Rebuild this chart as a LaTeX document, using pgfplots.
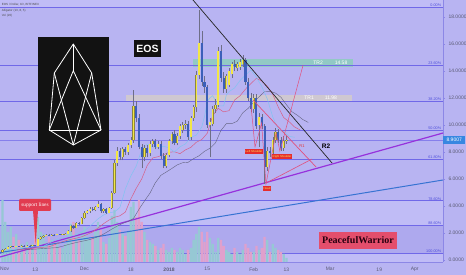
\documentclass[border=0pt]{standalone}
\usepackage{pgfplots}
\pgfplotsset{compat=1.18}
\usepackage{pgfplotstable}
\usepackage{fontspec}
\setmainfont{Liberation Sans}
\newfontfamily\serifface{Liberation Serif}

\definecolor{bg}{RGB}{184,180,242}
\definecolor{bandlight}{RGB}{192,188,246}
\definecolor{banddark}{RGB}{174,169,238}
\definecolor{fibline}{RGB}{112,104,232}
\definecolor{fibtext}{RGB}{80,80,220}
\definecolor{upbody}{RGB}{242,230,70}
\definecolor{upedge}{RGB}{140,135,60}
\definecolor{downbody}{RGB}{60,95,185}
\definecolor{wick}{RGB}{110,110,135}
\definecolor{volup}{RGB}{150,200,212}
\definecolor{voldown}{RGB}{224,160,204}
\definecolor{lips}{RGB}{130,195,240}
\definecolor{teeth}{RGB}{215,95,135}
\definecolor{jaw}{RGB}{100,100,130}
\definecolor{suppurple}{RGB}{150,50,220}
\definecolor{supblue}{RGB}{55,115,210}
\definecolor{hsline}{RGB}{225,80,125}
\definecolor{trtwo}{RGB}{140,205,190}
\definecolor{trone}{RGB}{212,204,204}
\definecolor{tagblue}{RGB}{55,135,225}
\definecolor{labelred}{RGB}{230,45,45}
\definecolor{boxred}{RGB}{228,78,108}
\definecolor{calloutred}{RGB}{225,60,80}
\definecolor{axisline}{RGB}{140,135,230}
\definecolor{ticktext}{RGB}{90,90,115}

% EOS/USD daily candles (day 0 = 1 Nov 2017), volume in chart units
\pgfplotstableread{
d o h l c v
0 0.60 0.80 0.55 0.75 62
1 0.75 0.90 0.72 0.85 40
2 0.85 1.00 0.80 0.95 30
3 0.95 1.05 0.92 1.00 35
5 0.98 1.06 0.95 1.02 28
7 1.00 1.08 0.97 1.05 18
9 1.02 1.09 1.00 1.06 20
11 1.03 1.11 1.01 1.08 18
13 1.05 1.65 1.03 1.55 45
14 1.55 1.78 1.50 1.70 30
15 1.70 1.86 1.65 1.80 28
16 1.80 1.90 1.75 1.85 20
18 1.82 1.93 1.78 1.88 22
20 1.85 1.95 1.82 1.90 18
22 1.87 1.96 1.84 1.92 14
23 1.92 2.00 1.88 1.95 18
24 1.95 2.20 1.92 2.15 30
25 2.15 2.60 2.10 2.50 38
27 2.40 2.85 2.35 2.75 28
29 2.70 3.20 2.65 3.10 30
30 3.10 3.60 3.00 3.50 35
31 3.50 3.70 3.40 3.60 25
32 3.60 3.90 3.50 3.80 22
34 3.70 4.00 3.60 3.95 30
35 3.95 4.35 3.85 4.15 40
37 3.60 3.85 3.50 3.75 20
39 3.50 3.95 3.45 3.85 24
40 3.85 5.10 3.80 5.00 46
41 5.00 7.40 4.90 7.20 52
42 7.20 8.40 7.00 8.10 40
44 7.60 8.40 7.40 8.20 28
46 8.00 8.70 7.80 8.50 30
47 8.50 9.10 8.30 8.90 55
48 8.90 12.60 8.70 11.40 60
52 7.60 8.50 7.30 8.30 30
54 7.90 8.80 7.70 8.60 20
55 8.60 9.00 8.40 8.80 18
57 8.40 8.80 8.20 8.60 12
60 7.00 7.90 6.80 7.80 12
61 7.80 9.00 7.60 8.80 10
62 8.80 9.50 8.60 9.30 14
64 8.70 9.40 8.50 9.20 10
65 9.20 10.10 9.00 9.90 14
66 9.60 10.20 9.40 10.00 12
67 10.00 10.40 9.70 10.10 8
69 9.10 10.70 8.90 10.50 14
70 10.50 11.50 10.30 11.30 22
71 11.30 14.00 11.00 13.70 28
72 13.70 18.50 13.40 16.10 35
76 10.00 10.50 7.60 10.20 24
77 10.10 11.40 9.90 11.20 18
78 11.20 11.90 10.90 11.50 10
79 11.50 15.80 11.30 15.50 24
82 12.70 13.80 12.40 13.60 12
83 13.00 14.20 12.80 14.00 10
84 13.80 14.70 13.50 14.50 8
86 14.20 14.70 14.00 14.50 10
87 14.30 14.90 14.10 14.70 8
88 14.50 15.20 14.30 14.80 12
92 11.20 12.30 10.90 12.00 10
94 10.00 10.90 8.37 10.60 12
97 6.90 8.40 6.60 8.10 22
99 7.90 9.10 7.70 8.90 18
100 8.90 9.80 8.70 9.50 14
103 8.30 9.20 8.10 8.80 8
104 8.80 9.20 8.60 8.9007 4
}\upcandles

\pgfplotstableread{
d o h l c v
4 1.00 1.04 0.95 0.98 25
6 1.02 1.05 0.97 1.00 22
8 1.05 1.08 0.99 1.02 15
10 1.06 1.08 1.00 1.03 14
12 1.08 1.10 1.02 1.05 38
17 1.85 1.90 1.78 1.82 25
19 1.88 1.92 1.82 1.85 20
21 1.90 1.94 1.84 1.87 14
26 2.50 2.60 2.30 2.40 40
28 2.75 2.85 2.60 2.70 22
33 3.80 3.90 3.60 3.70 26
36 4.15 4.25 3.50 3.60 32
38 3.75 3.85 3.40 3.50 18
43 8.10 8.30 7.40 7.60 32
45 8.20 8.40 7.80 8.00 26
49 11.40 11.80 10.20 10.50 45
50 10.50 10.80 8.20 8.40 62
51 8.40 8.60 6.80 7.60 40
53 8.30 8.50 7.60 7.90 22
56 8.80 9.00 8.20 8.40 16
58 8.60 8.80 7.50 7.70 14
59 7.70 7.90 6.80 7.00 18
63 9.30 9.60 8.50 8.70 12
68 10.10 10.30 8.90 9.10 12
73 16.10 17.00 12.90 13.20 30
74 13.20 13.60 12.40 12.80 20
75 12.80 13.00 9.80 10.00 30
80 15.50 15.90 13.20 13.50 22
81 13.50 13.90 12.40 12.70 16
85 14.50 14.80 14.00 14.30 14
89 14.80 15.00 13.00 13.20 18
90 13.20 13.50 11.80 12.00 14
91 12.00 12.40 11.00 11.20 10
93 12.00 12.30 9.70 9.90 16
95 10.60 10.80 9.70 9.90 14
96 9.90 10.10 5.63 6.90 25
98 8.10 8.40 7.60 7.90 10
101 9.50 9.70 8.70 8.90 12
102 8.90 9.10 8.07 8.30 10
}\downcandles

\pgfplotsset{
  frame/.style={scale only axis, width=443pt, height=262pt,
    xmin=-0.916, xmax=161.35},
  pricey/.style={ymin=-0.148, ymax=19.26},
}

\begin{document}
\begin{tikzpicture}[x=1pt,y=1pt]
\useasboundingbox (0,-13) rectangle (466,262);
\fill[bg] (0,-13) rectangle (466,262);

% ---- Fibonacci retracement backdrop
\begin{axis}[frame, pricey, hide axis, clip=true]
  \fill[bandlight] (axis cs:-1,18.7) rectangle (axis cs:162,19.3);
  \fill[bandlight] (axis cs:-1,4.395) rectangle (axis cs:162,2.575);
  \fill[banddark]  (axis cs:-1,2.575) rectangle (axis cs:162,0.5);
  \fill[bandlight] (axis cs:-1,0.5) rectangle (axis cs:162,-0.2);
  % target boxes
  \fill[trone, opacity=0.85] (axis cs:45.24,11.72) rectangle (axis cs:128.0,12.24);
  \fill[trtwo, opacity=0.85] (axis cs:69.78,14.28) rectangle (axis cs:128.4,14.88);
  \foreach \lv in {18.7,14.405,11.748,9.6,7.452,4.395,2.575,0.5} {
    \edef\tmp{\noexpand\addplot[fibline, line width=0.75pt, forget plot]
      coordinates {(-0.916,\lv) (161.35,\lv)};}
    \tmp
  }
  \begin{scope}[font=\fontsize{3.8}{4}\selectfont, text=fibtext, inner sep=0.4pt]
    \node[anchor=south east] at (axis cs:160.9,18.7) {0.00\%};
    \node[anchor=south east] at (axis cs:160.9,14.405) {23.60\%};
    \node[anchor=south east] at (axis cs:160.9,11.748) {38.20\%};
    \node[anchor=south east] at (axis cs:160.9,9.6) {50.00\%};
    \node[anchor=south east] at (axis cs:160.9,7.452) {61.80\%};
    \node[anchor=south east] at (axis cs:160.9,4.395) {78.60\%};
    \node[anchor=south east] at (axis cs:160.9,2.575) {88.60\%};
    \node[anchor=south east] at (axis cs:160.9,0.5) {100.00\%};
  \end{scope}
\end{axis}

% ---- volume
\begin{axis}[frame, hide axis, ymin=0, ymax=262]
  \addplot[ybar, bar width=2.3pt, bar shift=0pt, fill=volup, draw=none]
    table[x=d, y=v] \upcandles;
  \addplot[ybar, bar width=2.3pt, bar shift=0pt, fill=voldown, draw=none]
    table[x=d, y=v] \downcandles;
\end{axis}

% ---- price panel
\begin{axis}[frame, pricey,
  axis x line*=bottom, axis y line*=right,
  axis line style={draw=axisline, line width=0.6pt},
  xtick={0.8,12,30,47,61,75,92,104,120,138,151},
  xticklabels={Nov,13,Dec,18,\textbf{2018},15,Feb,13,Mar,19,Apr},
  ytick={0,2,...,18},
  tick label style={font=\fontsize{5}{5}\selectfont, text=ticktext},
  yticklabel style={/pgf/number format/.cd, fixed, fixed zerofill,
    precision=4, assume math mode=true},
  xtick style={draw=none},
  ytick style={draw=axisline, line width=0.5pt},
  tick align=outside, major tick length=2pt,
  clip=true]

  % last price line
  \addplot[fibline!70!bg, line width=0.4pt] coordinates {(-0.916,8.9007) (161.35,8.9007)};

  % support lines
  \addplot[supblue, line width=1.0pt] coordinates {(-0.916,0.548) (161.35,5.926)};
  \addplot[suppurple, line width=1.2pt] coordinates {(-0.916,0.222) (161.35,9.407)};

  % Alligator: jaw (13), teeth (8), lips (5)
  \addplot[jaw, line width=0.4pt] coordinates {
    (8,0.75) (10,0.773) (12,0.805) (14,0.836) (16,0.865) (18,0.892) (20,0.917)
    (22,1.022) (24,1.141) (26,1.246) (28,1.339) (30,1.422) (32,1.516) (34,1.654)
    (36,1.812) (38,2.033) (40,2.281) (42,2.51) (44,2.71) (46,2.845) (48,3.082)
    (50,3.76) (52,4.374) (54,4.949) (56,5.726) (58,6.27) (60,6.52) (62,6.778)
    (64,7.047) (66,7.207) (68,7.238) (70,7.507) (72,7.722) (74,8.051) (76,8.278)
    (78,8.668) (80,9.597) (82,10.099) (84,10.099) (86,10.285) (88,10.902)
    (90,11.237) (92,11.685) (94,12.087) (96,12.481) (98,12.495) (100,12.365)
    (102,12.054) (104,11.504) (106,10.985) (108,10.723) (110,10.407) (112,10.191)};
  \addplot[teeth, line width=0.5pt] coordinates {
    (5,0.75) (7,0.786) (9,0.834) (11,0.875) (13,0.912) (15,0.943) (17,0.971)
    (19,1.125) (21,1.289) (23,1.421) (25,1.528) (27,1.615) (29,1.719) (31,1.89)
    (33,2.086) (35,2.374) (37,2.686) (39,2.955) (41,3.166) (43,3.272) (45,3.551)
    (47,4.519) (49,5.316) (51,6.008) (53,6.999) (55,7.557) (57,7.654) (59,7.799)
    (61,7.984) (63,8.016) (65,7.878) (67,8.156) (69,8.346) (71,8.723) (73,8.921)
    (75,9.391) (77,10.701) (79,11.236) (81,10.972) (83,11.063) (85,11.853)
    (87,12.164) (89,12.657) (91,13.067) (93,13.462) (95,13.25) (97,12.87)
    (99,12.262) (101,11.334) (103,10.551) (105,10.239) (107,9.851) (109,9.639)};
  \addplot[lips, line width=0.5pt] coordinates {
    (3,0.75) (5,0.806) (7,0.872) (9,0.921) (11,0.962) (13,0.991) (15,1.017)
    (17,1.239) (19,1.451) (21,1.596) (23,1.698) (25,1.77) (27,1.875) (29,2.08)
    (31,2.311) (33,2.675) (35,3.048) (37,3.332) (39,3.517) (41,3.551) (43,3.889)
    (44,4.551) (45,5.261) (47,6.223) (49,6.962) (51,8.16) (53,8.582) (55,8.369)
    (57,8.34) (59,8.426) (61,8.309) (63,7.998) (65,8.386) (67,8.599) (69,9.087)
    (71,9.252) (73,9.862) (74,10.63) (75,11.724) (76,12.019) (77,12.175)
    (79,11.432) (81,11.409) (82,12.227) (83,12.482) (85,12.741) (87,13.294)
    (89,13.696) (91,14.078) (93,13.522) (95,12.846) (97,11.926) (99,10.597)
    (101,9.658) (103,9.505) (105,9.167) (107,9.087)};

  % wicks
  \addplot[draw=none, mark=none, forget plot,
    error bars/.cd, y dir=plus, y explicit, error mark=none,
    error bar style={draw=wick, line width=0.45pt}]
    table[x=d, y=l, y error plus expr=\thisrow{h}-\thisrow{l}] \upcandles;
  \addplot[draw=none, mark=none, forget plot,
    error bars/.cd, y dir=plus, y explicit, error mark=none,
    error bar style={draw=wick, line width=0.45pt}]
    table[x=d, y=l, y error plus expr=\thisrow{h}-\thisrow{l}] \downcandles;
  % bodies
  \addplot[draw=none, mark=none, forget plot,
    error bars/.cd, y dir=plus, y explicit, error mark=none,
    error bar style={draw=upedge, line width=2.2pt}]
    table[x=d, y=o, y error plus expr=\thisrow{c}-\thisrow{o}] \upcandles;
  \addplot[draw=none, mark=none, forget plot,
    error bars/.cd, y dir=plus, y explicit, error mark=none,
    error bar style={draw=upbody, line width=1.4pt}]
    table[x=d, y=o, y error plus expr=\thisrow{c}-\thisrow{o}] \upcandles;
  \addplot[draw=none, mark=none, forget plot,
    error bars/.cd, y dir=plus, y explicit, error mark=none,
    error bar style={draw=downbody, line width=2.1pt}]
    table[x=d, y=c, y error plus expr=\thisrow{o}-\thisrow{c}] \downcandles;

  % descending resistance
  \addplot[black!85, line width=0.7pt] coordinates {(68,19.68) (120.7,7.185)};
  % triangle and head-and-shoulders
  \addplot[hsline, line width=0.7pt] coordinates {(91.76,11.85) (114.84,6.89)};
  \addplot[hsline, line width=0.6pt] coordinates {(96.52,5.70) (113.37,7.48)};
  \addplot[hsline, line width=0.5pt] coordinates {
    (91.0,11.48) (92.49,8.37) (94.9,10.13) (96.5,5.63) (100.2,9.41)
    (101.6,8.07) (110.1,14.44)};

  % target labels
  \begin{scope}[font=\fontsize{5}{5}\selectfont, text=white]
    \node at (axis cs:115.6,14.58) {TR2};
    \node at (axis cs:124.0,14.58) {14.58};
    \node at (axis cs:112.3,11.98) {TR1};
    \node at (axis cs:120.3,11.98) {11.98};
  \end{scope}
\end{axis}

% ---- header text
\begin{scope}[font=\fontsize{3}{3.5}\selectfont, text=black!70, anchor=west, inner sep=0pt]
  \node[anchor=west] at (1.7,257) {EOS / Dollar, 1D, BITFINEX};
  \node[anchor=west] at (1.7,251.3) {Alligator (13, 8, 5)};
  \node[anchor=west] at (1.7,246) {Vol (20)};
\end{scope}

% ---- EOS logo
\fill[black!93] (38,225) rectangle (109,109);
\begin{scope}[white, line width=0.8pt, line join=round]
  \draw (73.3,218) -- (54.3,189) -- (49.3,132) -- (73.3,117) -- (101,132) -- (91.7,189) -- cycle;
  \draw (73.3,218) -- (73.3,191.3);
  \draw (49.3,132) -- (73.3,191.3) -- (101,132);
  \draw (54.3,189) -- (73.3,117) -- (91.7,189);
  \draw (49.3,132) -- (101,132);
\end{scope}
\node[fill=black!93, text=white, font=\bfseries\fontsize{10.5}{11}\selectfont,
  minimum width=27pt, minimum height=17pt, inner sep=0pt] at (147.5,213.5) {EOS};

% ---- support lines callout
\fill[calloutred] (33,51.5) -- (38,51.5) -- (35.7,18) -- cycle;
\node[fill=calloutred, rounded corners=1.2pt, text=white,
  font=\serifface\fontsize{5.3}{6}\selectfont,
  minimum width=32pt, minimum height=12pt, inner sep=0pt] at (35,57) {support lines};

% ---- pattern labels
\begin{scope}[font=\fontsize{2.8}{3}\selectfont, text={rgb,255:red,255;green,232;blue,90},
  fill=labelred, inner sep=0.5pt]
  \node[fill=labelred, minimum width=18pt, minimum height=5pt] at (254,110.5) {Left Shoulder};
  \node[fill=labelred, minimum width=20pt, minimum height=5pt] at (282,105) {Right Shoulder};
  \node[fill=labelred, minimum width=8pt, minimum height=5pt] at (267,73.5) {Head};
\end{scope}
\node[text=labelred, font=\fontsize{4}{4}\selectfont] at (302,116) {R1};
\node[text=black, font=\bfseries\fontsize{6.5}{7}\selectfont] at (326,116) {R2};

% ---- signature
\node[fill=boxred, text={rgb,255:red,40;green,0;blue,15},
  font=\serifface\bfseries\fontsize{10}{11}\selectfont,
  minimum width=78pt, minimum height=17pt, inner sep=0pt] at (358,21.5) {PeacefulWarrior};

% ---- last price tag
\node[fill=tagblue, text=white, font=\fontsize{5}{5}\selectfont, anchor=west,
  minimum width=22pt, minimum height=8.5pt, inner sep=0pt] at (443,122.16) {8.9007};
\end{tikzpicture}
\end{document}
